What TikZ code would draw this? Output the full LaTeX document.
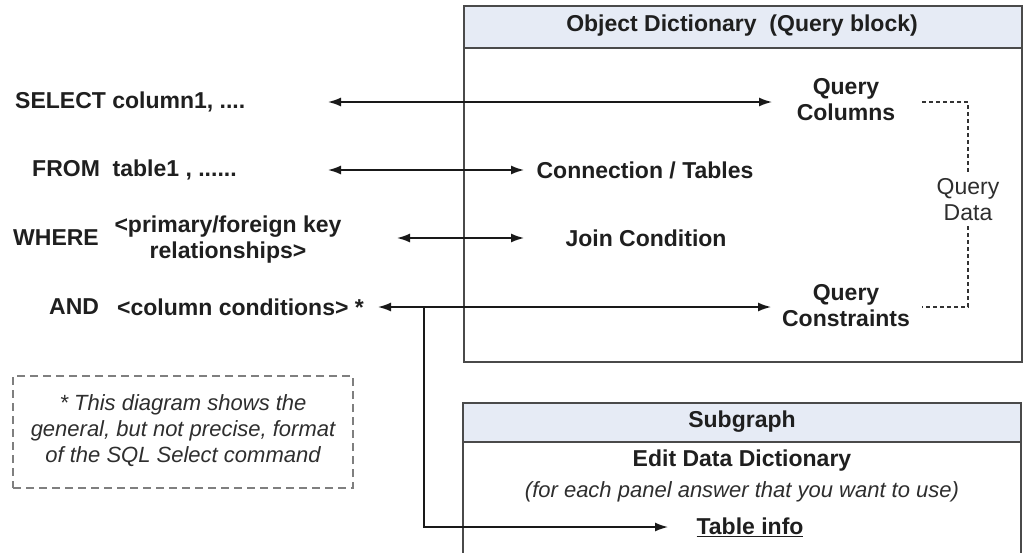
\documentclass[tikz,border=0pt]{standalone}
\usepackage{fontspec}
\setmainfont{Liberation Sans}
\usetikzlibrary{arrows.meta}
\definecolor{bordergray}{HTML}{4A4A4A}
\definecolor{headfill}{HTML}{E6EBF5}
\definecolor{notegray}{HTML}{7F7F7F}
\definecolor{textgray}{HTML}{2E2E2E}
\begin{document}
\begin{tikzpicture}[x=1pt,y=-1pt,
  font=\fontsize{23}{26}\selectfont\bfseries,
  lbl/.style={inner sep=0pt, align=center, text=black!88},
  plainlbl/.style={inner sep=0pt, align=center, font=\fontsize{23}{26}\selectfont, text=textgray},
  itlbl/.style={inner sep=0pt, align=center, font=\fontsize{22}{26}\selectfont\itshape, text=textgray},
  arr/.style={line width=1.5pt, draw=black!90, -{Latex[length=13pt,width=9pt]}},
  dblarr/.style={line width=1.5pt, draw=black!90, {Latex[length=13pt,width=9pt]}-{Latex[length=13pt,width=9pt]}},
  boxline/.style={line width=2pt, draw=bordergray},
  qdash/.style={line width=1.2pt, draw=black!80, dash pattern=on 4pt off 3pt},
  notebox/.style={line width=1.5pt, draw=notegray, dash pattern=on 8pt off 5pt}
]
\useasboundingbox (0,0) rectangle (1024,552);

% ---- Object Dictionary box ----
\node[boxline, fill=headfill, anchor=north west, minimum width=558pt, minimum height=42pt, inner sep=0pt] (odhead) at (463,5) {};
\node[boxline, anchor=north west, minimum width=558pt, minimum height=356pt, inner sep=0pt] (odbox) at (463,5) {};
\node[lbl] (odtitle) at (742,26) {Object Dictionary\ \ (Query block)};

% ---- Subgraph box (open at the bottom) ----
\fill[headfill] (463,403) rectangle (1021,442);
\coordinate (sgBL) at (463,556);
\coordinate (sgTL) at (463,403);
\coordinate (sgTR) at (1021,403);
\coordinate (sgBR) at (1021,556);
\coordinate (sgHL) at (463,442);
\coordinate (sgHR) at (1021,442);
\draw[boxline] (sgBL) -- (sgTL) -- (sgTR) -- (sgBR);
\draw[boxline] (sgHL) -- (sgHR);
\node[lbl] (sgtitle) at (742,422) {Subgraph};
\node[lbl] (edd) at (742,461) {Edit Data Dictionary};
\node[itlbl] (panel) at (742,492) {(for each panel answer that you want to use)};
\node[lbl] (tinfo) at (750,527) {\underline{Table info}};

% ---- SQL text on the left ----
\node[lbl, anchor=west] (sel) at (15,102) {SELECT column1, ....};
\node[lbl, anchor=west] (from) at (32,170) {FROM\ \ table1 , ......};
\node[lbl, anchor=west] (where) at (13,238) {WHERE};
\node[lbl] (pfk) at (228,240) {<primary/foreign key\\relationships>};
\node[lbl, anchor=west] (andw) at (49,307) {AND};
\node[lbl, anchor=west] (colc) at (117,307) {<column conditions> *};

% ---- Object dictionary contents ----
\node[lbl] (qcols) at (846,100) {Query\\Columns};
\node[lbl] (conn) at (645,170) {Connection / Tables};
\node[lbl] (join) at (646,238) {Join Condition};
\node[lbl] (qcons) at (846,306) {Query\\Constraints};
\node[plainlbl, inner sep=5pt] (qdata) at (968,200) {Query\\Data};

% ---- arrow end points ----
\coordinate (a1l) at (328,102);  \coordinate (a1r) at (772,102);
\coordinate (a2l) at (328,170);  \coordinate (a2r) at (524,170);
\coordinate (a3l) at (397,238);  \coordinate (a3r) at (524,238);
\coordinate (a4l) at (378,307);  \coordinate (a4r) at (771,307);
\coordinate (tj)  at (424,307);
\coordinate (tjc) at (424,527);
\coordinate (a5r) at (668,527);
\coordinate (qc1) at (922,102);
\coordinate (qc2) at (922,307);

\draw[dblarr] (a1l) -- (a1r);
\draw[dblarr] (a2l) -- (a2r);
\draw[dblarr] (a3l) -- (a3r);
\draw[dblarr] (a4l) -- (a4r);
\draw[arr] (tj) -- (tjc) -- (a5r);

% ---- Query Data bracket ----
\draw[qdash] (qc1) -| (qdata.north);
\draw[qdash] (qdata.south) |- (qc2);

% ---- note box ----
\node[notebox, minimum width=340pt, minimum height=112pt, inner sep=0pt] (note) at (183,432) {};
\node[itlbl] (notetext) at (183,431) {* This diagram shows the\\general, but not precise, format\\of the SQL Select command};
\end{tikzpicture}
\end{document}
